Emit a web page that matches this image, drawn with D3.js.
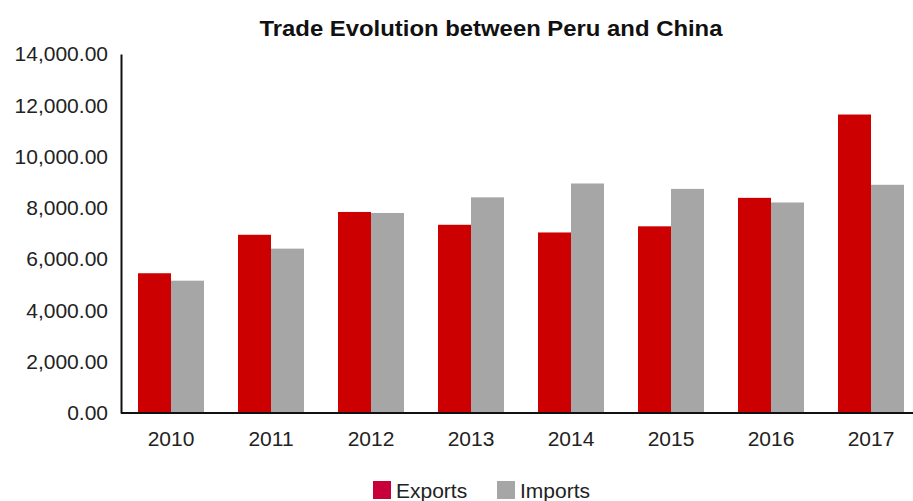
<!DOCTYPE html>
<html>
<head>
<meta charset="utf-8">
<script src="https://cdn.jsdelivr.net/npm/d3@7"></script>
<style>
  html, body { margin: 0; padding: 0; background: #ffffff; }
  svg { display: block; font-family: "Liberation Sans", Arial, sans-serif; }
</style>
</head>
<body>
<svg id="chart" width="913" height="501"></svg>
<script>
// Annual trade between Peru and China (values in millions of US$)
const years = ["2010", "2011", "2012", "2013", "2014", "2015", "2016", "2017"];
const exportsValues = [5450, 6950, 7840, 7340, 7040, 7280, 8390, 11640];
const importsValues = [5160, 6410, 7800, 8410, 8950, 8740, 8210, 8900];
const seriesNames = ["Exports", "Imports"];
const seriesColors = ["#cc0000", "#a6a6a6"];
const yTicks = [0, 2000, 4000, 6000, 8000, 10000, 12000, 14000];

const svg = d3.select("#chart");
const plot = { left: 121, right: 921, top: 54, bottom: 413 };

const x = d3.scaleBand().domain(years).range([plot.left, plot.right])
  .paddingInner(0.34).paddingOuter(0.17);
const xs = d3.scaleBand().domain(seriesNames).range([0, x.bandwidth()]);
const y = d3.scaleLinear().domain([0, 14000]).range([plot.bottom, plot.top]);
const color = d3.scaleOrdinal().domain(seriesNames).range(seriesColors);

// Title
svg.append("text")
  .attr("x", 491).attr("y", 36)
  .attr("text-anchor", "middle")
  .attr("font-size", 22).attr("font-weight", "bold")
  .attr("textLength", 463).attr("lengthAdjust", "spacingAndGlyphs")
  .attr("fill", "#111")
  .text("Trade Evolution between Peru and China");

// Bars
const rows = years.map((yr, i) => ({ year: yr, values: [
  { key: "Exports", value: exportsValues[i] },
  { key: "Imports", value: importsValues[i] }
]}));

const groups = svg.append("g").selectAll("g").data(rows).join("g")
  .attr("transform", d => `translate(${x(d.year)},0)`);
groups.selectAll("rect").data(d => d.values).join("rect")
  .attr("x", d => xs(d.key))
  .attr("width", xs.bandwidth())
  .attr("y", d => y(d.value))
  .attr("height", d => y(0) - y(d.value))
  .attr("fill", d => color(d.key));

// Y axis
const yAxis = svg.append("g")
  .attr("transform", `translate(${plot.left},0)`)
  .call(d3.axisLeft(y).tickValues(yTicks).tickSize(0).tickPadding(13)
    .tickFormat(d3.format(",.2f")));
yAxis.select(".domain").attr("stroke", "#111").attr("stroke-width", 2);
yAxis.selectAll("text").attr("font-size", 21).attr("fill", "#222")
  .attr("font-family", "Liberation Sans, Arial, sans-serif");

// X axis
const xAxis = svg.append("g")
  .attr("transform", `translate(0,${plot.bottom})`)
  .call(d3.axisBottom(x).tickSize(0).tickPadding(18));
xAxis.select(".domain").attr("stroke", "#111").attr("stroke-width", 2)
  .attr("d", `M${plot.left},0H913`);
xAxis.selectAll("text").attr("font-size", 21).attr("fill", "#222")
  .attr("font-family", "Liberation Sans, Arial, sans-serif");

// Legend
const legendPos = [373, 497];
const legend = svg.append("g").selectAll("g").data(seriesNames).join("g")
  .attr("transform", (d, i) => `translate(${legendPos[i]},481)`);
legend.append("rect")
  .attr("width", 18).attr("height", 18)
  .attr("fill", (d, i) => i === 0 ? "#c8003a" : "#a6a6a6");
legend.append("text")
  .attr("x", 23).attr("y", 17)
  .attr("font-size", 21).attr("fill", "#222")
  .text(d => d);
</script>
</body>
</html>
